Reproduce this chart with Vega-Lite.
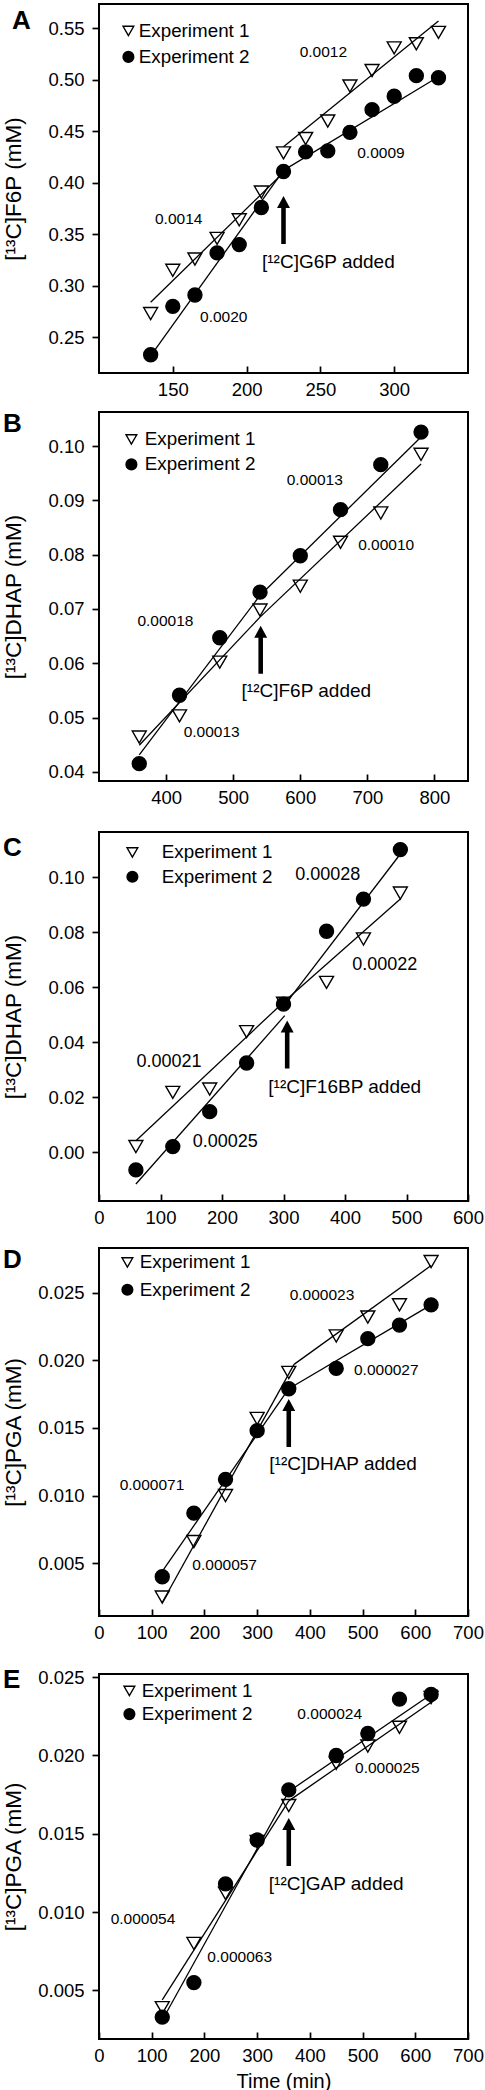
{
  "$schema": "https://vega.github.io/schema/vega-lite/v6.json",
  "padding": {"left": 1, "top": 3, "right": 2, "bottom": 2},
  "background": "white",
  "config": {
    "font": "Liberation Sans",
    "view": {"stroke": "black", "strokeWidth": 2},
    "axis": {"domain": false, "grid": false, "tickColor": "black", "tickWidth": 1.7, "labelColor": "black", "labelFontSize": 18.5, "labelFont": "Liberation Sans", "titleFont": "Liberation Sans", "titleFontWeight": "normal", "titleColor": "black", "labelFlush": false, "labelOverlap": false},
    "axisY": {"tickSize": 7, "labelPadding": 8, "titleFontSize": 22.5, "titlePadding": 12, "minExtent": 62, "maxExtent": 62},
    "axisX": {"tickSize": -7, "labelPadding": 14, "titleFontSize": 20, "titlePadding": 7},
    "legend": {"labelFont": "Liberation Sans", "labelFontSize": 18.8, "labelColor": "black", "symbolStrokeColor": "black", "symbolStrokeWidth": 1.4, "symbolSize": 115, "padding": 0, "direction": "vertical", "orient": "none"},
    "title": {"font": "Liberation Sans", "fontSize": 26, "fontWeight": "bold", "color": "black", "anchor": "start", "frame": "group"}
  },
  "datasets": {
    "pts": [
      {"panel":"A","exp":"Experiment 1","t":135,"c":0.273},{"panel":"A","exp":"Experiment 1","t":150,"c":0.315},{"panel":"A","exp":"Experiment 1","t":165,"c":0.326},{"panel":"A","exp":"Experiment 1","t":180,"c":0.346},{"panel":"A","exp":"Experiment 1","t":195,"c":0.364},{"panel":"A","exp":"Experiment 1","t":210,"c":0.391},{"panel":"A","exp":"Experiment 1","t":225,"c":0.429},{"panel":"A","exp":"Experiment 1","t":240,"c":0.443},{"panel":"A","exp":"Experiment 1","t":255,"c":0.460},{"panel":"A","exp":"Experiment 1","t":270,"c":0.494},{"panel":"A","exp":"Experiment 1","t":285,"c":0.509},{"panel":"A","exp":"Experiment 1","t":300,"c":0.531},{"panel":"A","exp":"Experiment 1","t":315,"c":0.535},{"panel":"A","exp":"Experiment 1","t":330,"c":0.546},
      {"panel":"A","exp":"Experiment 2","t":135,"c":0.233},{"panel":"A","exp":"Experiment 2","t":150,"c":0.280},{"panel":"A","exp":"Experiment 2","t":165,"c":0.291},{"panel":"A","exp":"Experiment 2","t":180,"c":0.332},{"panel":"A","exp":"Experiment 2","t":195,"c":0.340},{"panel":"A","exp":"Experiment 2","t":210,"c":0.376},{"panel":"A","exp":"Experiment 2","t":225,"c":0.411},{"panel":"A","exp":"Experiment 2","t":240,"c":0.430},{"panel":"A","exp":"Experiment 2","t":255,"c":0.431},{"panel":"A","exp":"Experiment 2","t":270,"c":0.449},{"panel":"A","exp":"Experiment 2","t":285,"c":0.471},{"panel":"A","exp":"Experiment 2","t":300,"c":0.484},{"panel":"A","exp":"Experiment 2","t":315,"c":0.504},{"panel":"A","exp":"Experiment 2","t":330,"c":0.502},
      {"panel":"B","exp":"Experiment 1","t":360,"c":0.0464},{"panel":"B","exp":"Experiment 1","t":420,"c":0.0503},{"panel":"B","exp":"Experiment 1","t":480,"c":0.0602},{"panel":"B","exp":"Experiment 1","t":540,"c":0.0698},{"panel":"B","exp":"Experiment 1","t":600,"c":0.0742},{"panel":"B","exp":"Experiment 1","t":660,"c":0.0823},{"panel":"B","exp":"Experiment 1","t":720,"c":0.0877},{"panel":"B","exp":"Experiment 1","t":780,"c":0.0985},
      {"panel":"B","exp":"Experiment 2","t":360,"c":0.0415},{"panel":"B","exp":"Experiment 2","t":420,"c":0.0541},{"panel":"B","exp":"Experiment 2","t":480,"c":0.0647},{"panel":"B","exp":"Experiment 2","t":540,"c":0.0731},{"panel":"B","exp":"Experiment 2","t":600,"c":0.0798},{"panel":"B","exp":"Experiment 2","t":660,"c":0.0883},{"panel":"B","exp":"Experiment 2","t":720,"c":0.0966},{"panel":"B","exp":"Experiment 2","t":780,"c":0.1026},
      {"panel":"C","exp":"Experiment 1","t":60,"c":0.0021},{"panel":"C","exp":"Experiment 1","t":120,"c":0.0218},{"panel":"C","exp":"Experiment 1","t":180,"c":0.0230},{"panel":"C","exp":"Experiment 1","t":240,"c":0.0439},{"panel":"C","exp":"Experiment 1","t":300,"c":0.0542},{"panel":"C","exp":"Experiment 1","t":370,"c":0.0618},{"panel":"C","exp":"Experiment 1","t":430,"c":0.0776},{"panel":"C","exp":"Experiment 1","t":490,"c":0.0943},
      {"panel":"C","exp":"Experiment 2","t":60,"c":-0.0064},{"panel":"C","exp":"Experiment 2","t":120,"c":0.0021},{"panel":"C","exp":"Experiment 2","t":180,"c":0.0148},{"panel":"C","exp":"Experiment 2","t":240,"c":0.0325},{"panel":"C","exp":"Experiment 2","t":300,"c":0.0539},{"panel":"C","exp":"Experiment 2","t":370,"c":0.0804},{"panel":"C","exp":"Experiment 2","t":430,"c":0.0921},{"panel":"C","exp":"Experiment 2","t":490,"c":0.1101},
      {"panel":"D","exp":"Experiment 1","t":120,"c":0.0025},{"panel":"D","exp":"Experiment 1","t":180,"c":0.0066},{"panel":"D","exp":"Experiment 1","t":240,"c":0.0100},{"panel":"D","exp":"Experiment 1","t":300,"c":0.0157},{"panel":"D","exp":"Experiment 1","t":360,"c":0.0191},{"panel":"D","exp":"Experiment 1","t":450,"c":0.0218},{"panel":"D","exp":"Experiment 1","t":510,"c":0.0232},{"panel":"D","exp":"Experiment 1","t":570,"c":0.0241},{"panel":"D","exp":"Experiment 1","t":630,"c":0.0273},
      {"panel":"D","exp":"Experiment 2","t":120,"c":0.0040},{"panel":"D","exp":"Experiment 2","t":180,"c":0.0087},{"panel":"D","exp":"Experiment 2","t":240,"c":0.0112},{"panel":"D","exp":"Experiment 2","t":300,"c":0.0148},{"panel":"D","exp":"Experiment 2","t":360,"c":0.0179},{"panel":"D","exp":"Experiment 2","t":450,"c":0.0194},{"panel":"D","exp":"Experiment 2","t":510,"c":0.0216},{"panel":"D","exp":"Experiment 2","t":570,"c":0.0226},{"panel":"D","exp":"Experiment 2","t":630,"c":0.0241},
      {"panel":"E","exp":"Experiment 1","t":120,"c":0.0039},{"panel":"E","exp":"Experiment 1","t":180,"c":0.0080},{"panel":"E","exp":"Experiment 1","t":240,"c":0.0112},{"panel":"E","exp":"Experiment 1","t":300,"c":0.0145},{"panel":"E","exp":"Experiment 1","t":360,"c":0.0168},{"panel":"E","exp":"Experiment 1","t":450,"c":0.0195},{"panel":"E","exp":"Experiment 1","t":510,"c":0.0206},{"panel":"E","exp":"Experiment 1","t":570,"c":0.0218},{"panel":"E","exp":"Experiment 1","t":630,"c":0.0237},
      {"panel":"E","exp":"Experiment 2","t":120,"c":0.0033},{"panel":"E","exp":"Experiment 2","t":180,"c":0.0055},{"panel":"E","exp":"Experiment 2","t":240,"c":0.0118},{"panel":"E","exp":"Experiment 2","t":300,"c":0.0146},{"panel":"E","exp":"Experiment 2","t":360,"c":0.0178},{"panel":"E","exp":"Experiment 2","t":450,"c":0.0200},{"panel":"E","exp":"Experiment 2","t":510,"c":0.0214},{"panel":"E","exp":"Experiment 2","t":570,"c":0.0236},{"panel":"E","exp":"Experiment 2","t":630,"c":0.0239}
    ],
    "fits": [
      {"panel":"A","seg":"1a","t":135,"c":0.284},{"panel":"A","seg":"1a","t":225,"c":0.410},
      {"panel":"A","seg":"1b","t":225,"c":0.435},{"panel":"A","seg":"1b","t":330,"c":0.557},
      {"panel":"A","seg":"2a","t":135,"c":0.232},{"panel":"A","seg":"2a","t":225,"c":0.412},
      {"panel":"A","seg":"2b","t":225,"c":0.412},{"panel":"A","seg":"2b","t":330,"c":0.503},
      {"panel":"B","seg":"1a","t":360,"c":0.0449},{"panel":"B","seg":"1a","t":540,"c":0.0685},
      {"panel":"B","seg":"1b","t":540,"c":0.0685},{"panel":"B","seg":"1b","t":780,"c":0.0967},
      {"panel":"B","seg":"2a","t":360,"c":0.0431},{"panel":"B","seg":"2a","t":540,"c":0.0725},
      {"panel":"B","seg":"2b","t":540,"c":0.0725},{"panel":"B","seg":"2b","t":780,"c":0.1017},
      {"panel":"C","seg":"1a","t":60,"c":0.0042},{"panel":"C","seg":"1a","t":300,"c":0.0546},
      {"panel":"C","seg":"1b","t":300,"c":0.0546},{"panel":"C","seg":"1b","t":490,"c":0.0921},
      {"panel":"C","seg":"2a","t":60,"c":-0.0115},{"panel":"C","seg":"2a","t":302,"c":0.0497},
      {"panel":"C","seg":"2b","t":299,"c":0.0527},{"panel":"C","seg":"2b","t":490,"c":0.1085},
      {"panel":"D","seg":"1a","t":120,"c":0.0021},{"panel":"D","seg":"1a","t":370,"c":0.0197},
      {"panel":"D","seg":"1b","t":370,"c":0.0197},{"panel":"D","seg":"1b","t":630,"c":0.0270},
      {"panel":"D","seg":"2a","t":120,"c":0.0044},{"panel":"D","seg":"2a","t":360,"c":0.0179},
      {"panel":"D","seg":"2b","t":360,"c":0.0179},{"panel":"D","seg":"2b","t":630,"c":0.0241},
      {"panel":"E","seg":"1a","t":120,"c":0.0044},{"panel":"E","seg":"1a","t":360,"c":0.0171},
      {"panel":"E","seg":"1b","t":360,"c":0.0171},{"panel":"E","seg":"1b","t":643,"c":0.0237},
      {"panel":"E","seg":"2a","t":120,"c":0.0031},{"panel":"E","seg":"2a","t":360,"c":0.0177},
      {"panel":"E","seg":"2b","t":360,"c":0.0177},{"panel":"E","seg":"2b","t":643,"c":0.0242}
    ],
    "notes": [
      {"panel":"A","kind":"slope","t":252,"c":0.527,"label":"0.0012"},
      {"panel":"A","kind":"slope","t":291,"c":0.4286,"label":"0.0009"},
      {"panel":"A","kind":"slope","t":154,"c":0.365,"label":"0.0014"},
      {"panel":"A","kind":"slope","t":184.5,"c":0.270,"label":"0.0020"},
      {"panel":"A","kind":"added","t":255.4,"c":0.323,"label":"[¹²C]G6P added"},
      {"panel":"A","kind":"arrow","t":225,"c":0.3872,"label":""},
      {"panel":"B","kind":"slope","t":621.6,"c":0.0937,"label":"0.00013"},
      {"panel":"B","kind":"slope","t":728,"c":0.0817,"label":"0.00010"},
      {"panel":"B","kind":"slope","t":399,"c":0.0677,"label":"0.00018"},
      {"panel":"B","kind":"slope","t":468,"c":0.0474,"label":"0.00013"},
      {"panel":"B","kind":"added","t":609,"c":0.0548,"label":"[¹²C]F6P added"},
      {"panel":"B","kind":"arrow","t":541,"c":0.0669,"label":""},
      {"panel":"C","kind":"slope","t":372,"c":0.1008,"label":"0.00028"},
      {"panel":"C","kind":"slope","t":464.5,"c":0.0682,"label":"0.00022"},
      {"panel":"C","kind":"slope","t":113.8,"c":0.0327,"label":"0.00021"},
      {"panel":"C","kind":"slope","t":205.4,"c":0.0039,"label":"0.00025"},
      {"panel":"C","kind":"added","t":399.5,"c":0.0239,"label":"[¹²C]F16BP added"},
      {"panel":"C","kind":"arrow","t":306,"c":0.0479,"label":""},
      {"panel":"D","kind":"slope","t":423,"c":0.0248,"label":"0.000023"},
      {"panel":"D","kind":"slope","t":545,"c":0.0193,"label":"0.000027"},
      {"panel":"D","kind":"slope","t":100.5,"c":0.01078,"label":"0.000071"},
      {"panel":"D","kind":"slope","t":238.4,"c":0.00488,"label":"0.000057"},
      {"panel":"D","kind":"added","t":463,"c":0.01233,"label":"[¹²C]DHAP added"},
      {"panel":"D","kind":"arrow","t":360,"c":0.01713,"label":""},
      {"panel":"E","kind":"slope","t":437.6,"c":0.02266,"label":"0.000024"},
      {"panel":"E","kind":"slope","t":547,"c":0.01919,"label":"0.000025"},
      {"panel":"E","kind":"slope","t":83.5,"c":0.00953,"label":"0.000054"},
      {"panel":"E","kind":"slope","t":266.9,"c":0.00713,"label":"0.000063"},
      {"panel":"E","kind":"added","t":450,"c":0.01181,"label":"[¹²C]GAP added"},
      {"panel":"E","kind":"arrow","t":360,"c":0.0160,"label":""}
    ]
  },
  "spacing": 10,
  "resolve": {"scale": {"shape": "independent", "fill": "independent", "stroke": "independent"}},
  "vconcat": [
    {
      "width": 369, "height": 369,
      "title": {"text": "A", "dx": -87, "offset": -29.5},
      "layer": [
        {"data": {"name": "pts"}, "transform": [{"filter": "datum.panel === 'A'"}],
         "mark": {"type": "point", "filled": true, "strokeWidth": 1.4, "size": 195, "opacity": 1},
         "encoding": {
           "x": {"field": "t", "type": "quantitative", "scale": {"domain": [100, 350], "nice": false, "zero": false}, "axis": {"values": [150, 200, 250, 300], "title": null}},
           "y": {"field": "c", "type": "quantitative", "scale": {"domain": [0.2153, 0.5736], "nice": false, "zero": false}, "axis": {"values": [0.25, 0.30, 0.35, 0.40, 0.45, 0.50, 0.55], "format": ".2f", "title": "[¹³C]F6P (mM)"}},
           "shape": {"field": "exp", "type": "nominal", "scale": {"domain": ["Experiment 1", "Experiment 2"], "range": ["triangle-down", "circle"]}, "legend": {"title": null, "orient": "none", "legendX": 20, "legendY": 17.5, "labelOffset": 1, "rowPadding": 6, "symbolSize": 115}},
           "fill": {"field": "exp", "type": "nominal", "scale": {"domain": ["Experiment 1", "Experiment 2"], "range": ["white", "black"]}, "legend": {"title": null, "orient": "none", "legendX": 20, "legendY": 17.5, "labelOffset": 1, "rowPadding": 6, "symbolSize": 115}},
           "stroke": {"field": "exp", "type": "nominal", "scale": {"domain": ["Experiment 1", "Experiment 2"], "range": ["black", "black"]}, "legend": {"title": null, "orient": "none", "legendX": 20, "legendY": 17.5, "labelOffset": 1, "rowPadding": 6, "symbolSize": 115}}
         }},
        {"data": {"name": "fits"}, "transform": [{"filter": "datum.panel === 'A'"}],
         "mark": {"type": "line", "stroke": "black", "strokeWidth": 1.3},
         "encoding": {
           "x": {"field": "t", "type": "quantitative", "scale": {"domain": [100, 350], "nice": false, "zero": false}, "axis": {"values": [150, 200, 250, 300], "title": null}},
           "y": {"field": "c", "type": "quantitative", "scale": {"domain": [0.2153, 0.5736], "nice": false, "zero": false}, "axis": {"values": [0.25, 0.30, 0.35, 0.40, 0.45, 0.50, 0.55], "format": ".2f", "title": "[¹³C]F6P (mM)"}},
           "detail": {"field": "seg", "type": "nominal"}
         }},
        {"data": {"name": "notes"}, "transform": [{"filter": "datum.panel === 'A' && datum.kind === 'slope'"}],
         "mark": {"type": "text", "font": "Liberation Sans", "fontSize": 15.5, "fill": "black"},
         "encoding": {
           "x": {"field": "t", "type": "quantitative", "scale": {"domain": [100, 350], "nice": false, "zero": false}, "axis": {"values": [150, 200, 250, 300], "title": null}},
           "y": {"field": "c", "type": "quantitative", "scale": {"domain": [0.2153, 0.5736], "nice": false, "zero": false}, "axis": {"values": [0.25, 0.30, 0.35, 0.40, 0.45, 0.50, 0.55], "format": ".2f", "title": "[¹³C]F6P (mM)"}},
           "text": {"field": "label"}
         }},
        {"data": {"name": "notes"}, "transform": [{"filter": "datum.panel === 'A' && datum.kind === 'added'"}],
         "mark": {"type": "text", "font": "Liberation Sans", "fontSize": 19, "fill": "black"},
         "encoding": {
           "x": {"field": "t", "type": "quantitative", "scale": {"domain": [100, 350], "nice": false, "zero": false}, "axis": {"values": [150, 200, 250, 300], "title": null}},
           "y": {"field": "c", "type": "quantitative", "scale": {"domain": [0.2153, 0.5736], "nice": false, "zero": false}, "axis": {"values": [0.25, 0.30, 0.35, 0.40, 0.45, 0.50, 0.55], "format": ".2f", "title": "[¹³C]F6P (mM)"}},
           "text": {"field": "label"}
         }},
        {"data": {"name": "notes"}, "transform": [{"filter": "datum.panel === 'A' && datum.kind === 'arrow'"}],
         "mark": {"type": "point", "shape": "M0,0L0.27,0.5L0.095,0.5L0.095,2L-0.095,2L-0.095,0.5L-0.27,0.5Z", "size": 2304, "filled": true, "fill": "black", "strokeWidth": 0, "opacity": 1},
         "encoding": {
           "x": {"field": "t", "type": "quantitative", "scale": {"domain": [100, 350], "nice": false, "zero": false}, "axis": {"values": [150, 200, 250, 300], "title": null}},
           "y": {"field": "c", "type": "quantitative", "scale": {"domain": [0.2153, 0.5736], "nice": false, "zero": false}, "axis": {"values": [0.25, 0.30, 0.35, 0.40, 0.45, 0.50, 0.55], "format": ".2f", "title": "[¹³C]F6P (mM)"}}
         }}
      ]
    },
    {
      "width": 369, "height": 369,
      "title": {"text": "B", "dx": -96, "offset": -25},
      "layer": [
        {"data": {"name": "pts"}, "transform": [{"filter": "datum.panel === 'B'"}],
         "mark": {"type": "point", "filled": true, "strokeWidth": 1.4, "size": 195, "opacity": 1},
         "encoding": {
           "x": {"field": "t", "type": "quantitative", "scale": {"domain": [300, 850], "nice": false, "zero": false}, "axis": {"values": [400, 500, 600, 700, 800], "title": null}},
           "y": {"field": "c", "type": "quantitative", "scale": {"domain": [0.0383, 0.1063], "nice": false, "zero": false}, "axis": {"values": [0.04, 0.05, 0.06, 0.07, 0.08, 0.09, 0.10], "format": ".2f", "title": "[¹³C]DHAP (mM)"}},
           "shape": {"field": "exp", "type": "nominal", "scale": {"domain": ["Experiment 1", "Experiment 2"], "range": ["triangle-down", "circle"]}, "legend": {"title": null, "orient": "none", "legendX": 23, "legendY": 18, "labelOffset": 4, "rowPadding": 5, "symbolSize": 115}},
           "fill": {"field": "exp", "type": "nominal", "scale": {"domain": ["Experiment 1", "Experiment 2"], "range": ["white", "black"]}, "legend": {"title": null, "orient": "none", "legendX": 23, "legendY": 18, "labelOffset": 4, "rowPadding": 5, "symbolSize": 115}},
           "stroke": {"field": "exp", "type": "nominal", "scale": {"domain": ["Experiment 1", "Experiment 2"], "range": ["black", "black"]}, "legend": {"title": null, "orient": "none", "legendX": 23, "legendY": 18, "labelOffset": 4, "rowPadding": 5, "symbolSize": 115}}
         }},
        {"data": {"name": "fits"}, "transform": [{"filter": "datum.panel === 'B'"}],
         "mark": {"type": "line", "stroke": "black", "strokeWidth": 1.3},
         "encoding": {
           "x": {"field": "t", "type": "quantitative", "scale": {"domain": [300, 850], "nice": false, "zero": false}, "axis": {"values": [400, 500, 600, 700, 800], "title": null}},
           "y": {"field": "c", "type": "quantitative", "scale": {"domain": [0.0383, 0.1063], "nice": false, "zero": false}, "axis": {"values": [0.04, 0.05, 0.06, 0.07, 0.08, 0.09, 0.10], "format": ".2f", "title": "[¹³C]DHAP (mM)"}},
           "detail": {"field": "seg", "type": "nominal"}
         }},
        {"data": {"name": "notes"}, "transform": [{"filter": "datum.panel === 'B' && datum.kind === 'slope'"}],
         "mark": {"type": "text", "font": "Liberation Sans", "fontSize": 15.5, "fill": "black"},
         "encoding": {
           "x": {"field": "t", "type": "quantitative", "scale": {"domain": [300, 850], "nice": false, "zero": false}, "axis": {"values": [400, 500, 600, 700, 800], "title": null}},
           "y": {"field": "c", "type": "quantitative", "scale": {"domain": [0.0383, 0.1063], "nice": false, "zero": false}, "axis": {"values": [0.04, 0.05, 0.06, 0.07, 0.08, 0.09, 0.10], "format": ".2f", "title": "[¹³C]DHAP (mM)"}},
           "text": {"field": "label"}
         }},
        {"data": {"name": "notes"}, "transform": [{"filter": "datum.panel === 'B' && datum.kind === 'added'"}],
         "mark": {"type": "text", "font": "Liberation Sans", "fontSize": 19, "fill": "black"},
         "encoding": {
           "x": {"field": "t", "type": "quantitative", "scale": {"domain": [300, 850], "nice": false, "zero": false}, "axis": {"values": [400, 500, 600, 700, 800], "title": null}},
           "y": {"field": "c", "type": "quantitative", "scale": {"domain": [0.0383, 0.1063], "nice": false, "zero": false}, "axis": {"values": [0.04, 0.05, 0.06, 0.07, 0.08, 0.09, 0.10], "format": ".2f", "title": "[¹³C]DHAP (mM)"}},
           "text": {"field": "label"}
         }},
        {"data": {"name": "notes"}, "transform": [{"filter": "datum.panel === 'B' && datum.kind === 'arrow'"}],
         "mark": {"type": "point", "shape": "M0,0L0.27,0.5L0.095,0.5L0.095,2L-0.095,2L-0.095,0.5L-0.27,0.5Z", "size": 2304, "filled": true, "fill": "black", "strokeWidth": 0, "opacity": 1},
         "encoding": {
           "x": {"field": "t", "type": "quantitative", "scale": {"domain": [300, 850], "nice": false, "zero": false}, "axis": {"values": [400, 500, 600, 700, 800], "title": null}},
           "y": {"field": "c", "type": "quantitative", "scale": {"domain": [0.0383, 0.1063], "nice": false, "zero": false}, "axis": {"values": [0.04, 0.05, 0.06, 0.07, 0.08, 0.09, 0.10], "format": ".2f", "title": "[¹³C]DHAP (mM)"}}
         }}
      ]
    },
    {
      "width": 369, "height": 369,
      "title": {"text": [" ", "C"], "lineHeight": 16, "dx": -96, "offset": -29},
      "layer": [
        {"data": {"name": "pts"}, "transform": [{"filter": "datum.panel === 'C'"}],
         "mark": {"type": "point", "filled": true, "strokeWidth": 1.4, "size": 195, "opacity": 1},
         "encoding": {
           "x": {"field": "t", "type": "quantitative", "scale": {"domain": [0, 600], "nice": false, "zero": false}, "axis": {"values": [0, 100, 200, 300, 400, 500, 600], "title": null}},
           "y": {"field": "c", "type": "quantitative", "scale": {"domain": [-0.0177, 0.1165], "nice": false, "zero": false}, "axis": {"values": [0, 0.02, 0.04, 0.06, 0.08, 0.10], "format": ".2f", "title": "[¹³C]DHAP (mM)"}},
           "shape": {"field": "exp", "type": "nominal", "scale": {"domain": ["Experiment 1", "Experiment 2"], "range": ["triangle-down", "circle"]}, "legend": {"title": null, "orient": "none", "legendX": 24, "legendY": 11, "labelOffset": 20, "rowPadding": 4.3, "symbolSize": 115}},
           "fill": {"field": "exp", "type": "nominal", "scale": {"domain": ["Experiment 1", "Experiment 2"], "range": ["white", "black"]}, "legend": {"title": null, "orient": "none", "legendX": 24, "legendY": 11, "labelOffset": 20, "rowPadding": 4.3, "symbolSize": 115}},
           "stroke": {"field": "exp", "type": "nominal", "scale": {"domain": ["Experiment 1", "Experiment 2"], "range": ["black", "black"]}, "legend": {"title": null, "orient": "none", "legendX": 24, "legendY": 11, "labelOffset": 20, "rowPadding": 4.3, "symbolSize": 115}}
         }},
        {"data": {"name": "fits"}, "transform": [{"filter": "datum.panel === 'C'"}],
         "mark": {"type": "line", "stroke": "black", "strokeWidth": 1.3},
         "encoding": {
           "x": {"field": "t", "type": "quantitative", "scale": {"domain": [0, 600], "nice": false, "zero": false}, "axis": {"values": [0, 100, 200, 300, 400, 500, 600], "title": null}},
           "y": {"field": "c", "type": "quantitative", "scale": {"domain": [-0.0177, 0.1165], "nice": false, "zero": false}, "axis": {"values": [0, 0.02, 0.04, 0.06, 0.08, 0.10], "format": ".2f", "title": "[¹³C]DHAP (mM)"}},
           "detail": {"field": "seg", "type": "nominal"}
         }},
        {"data": {"name": "notes"}, "transform": [{"filter": "datum.panel === 'C' && datum.kind === 'slope'"}],
         "mark": {"type": "text", "font": "Liberation Sans", "fontSize": 18, "fill": "black"},
         "encoding": {
           "x": {"field": "t", "type": "quantitative", "scale": {"domain": [0, 600], "nice": false, "zero": false}, "axis": {"values": [0, 100, 200, 300, 400, 500, 600], "title": null}},
           "y": {"field": "c", "type": "quantitative", "scale": {"domain": [-0.0177, 0.1165], "nice": false, "zero": false}, "axis": {"values": [0, 0.02, 0.04, 0.06, 0.08, 0.10], "format": ".2f", "title": "[¹³C]DHAP (mM)"}},
           "text": {"field": "label"}
         }},
        {"data": {"name": "notes"}, "transform": [{"filter": "datum.panel === 'C' && datum.kind === 'added'"}],
         "mark": {"type": "text", "font": "Liberation Sans", "fontSize": 19, "fill": "black"},
         "encoding": {
           "x": {"field": "t", "type": "quantitative", "scale": {"domain": [0, 600], "nice": false, "zero": false}, "axis": {"values": [0, 100, 200, 300, 400, 500, 600], "title": null}},
           "y": {"field": "c", "type": "quantitative", "scale": {"domain": [-0.0177, 0.1165], "nice": false, "zero": false}, "axis": {"values": [0, 0.02, 0.04, 0.06, 0.08, 0.10], "format": ".2f", "title": "[¹³C]DHAP (mM)"}},
           "text": {"field": "label"}
         }},
        {"data": {"name": "notes"}, "transform": [{"filter": "datum.panel === 'C' && datum.kind === 'arrow'"}],
         "mark": {"type": "point", "shape": "M0,0L0.27,0.5L0.095,0.5L0.095,2L-0.095,2L-0.095,0.5L-0.27,0.5Z", "size": 2304, "filled": true, "fill": "black", "strokeWidth": 0, "opacity": 1},
         "encoding": {
           "x": {"field": "t", "type": "quantitative", "scale": {"domain": [0, 600], "nice": false, "zero": false}, "axis": {"values": [0, 100, 200, 300, 400, 500, 600], "title": null}},
           "y": {"field": "c", "type": "quantitative", "scale": {"domain": [-0.0177, 0.1165], "nice": false, "zero": false}, "axis": {"values": [0, 0.02, 0.04, 0.06, 0.08, 0.10], "format": ".2f", "title": "[¹³C]DHAP (mM)"}}
         }}
      ]
    },
    {
      "width": 369, "height": 368,
      "title": {"text": [" ", "D"], "lineHeight": 8, "dx": -96, "offset": -25},
      "layer": [
        {"data": {"name": "pts"}, "transform": [{"filter": "datum.panel === 'D'"}],
         "mark": {"type": "point", "filled": true, "strokeWidth": 1.4, "size": 195, "opacity": 1},
         "encoding": {
           "x": {"field": "t", "type": "quantitative", "scale": {"domain": [0, 700], "nice": false, "zero": false}, "axis": {"values": [0, 100, 200, 300, 400, 500, 600, 700], "title": null}},
           "y": {"field": "c", "type": "quantitative", "scale": {"domain": [0.0011, 0.0283], "nice": false, "zero": false}, "axis": {"values": [0.005, 0.010, 0.015, 0.020, 0.025], "format": ".3f", "title": "[¹³C]PGA (mM)"}},
           "shape": {"field": "exp", "type": "nominal", "scale": {"domain": ["Experiment 1", "Experiment 2"], "range": ["triangle-down", "circle"]}, "legend": {"title": null, "orient": "none", "legendX": 19, "legendY": 5, "labelOffset": 3, "rowPadding": 7.3, "symbolSize": 115}},
           "fill": {"field": "exp", "type": "nominal", "scale": {"domain": ["Experiment 1", "Experiment 2"], "range": ["white", "black"]}, "legend": {"title": null, "orient": "none", "legendX": 19, "legendY": 5, "labelOffset": 3, "rowPadding": 7.3, "symbolSize": 115}},
           "stroke": {"field": "exp", "type": "nominal", "scale": {"domain": ["Experiment 1", "Experiment 2"], "range": ["black", "black"]}, "legend": {"title": null, "orient": "none", "legendX": 19, "legendY": 5, "labelOffset": 3, "rowPadding": 7.3, "symbolSize": 115}}
         }},
        {"data": {"name": "fits"}, "transform": [{"filter": "datum.panel === 'D'"}],
         "mark": {"type": "line", "stroke": "black", "strokeWidth": 1.3},
         "encoding": {
           "x": {"field": "t", "type": "quantitative", "scale": {"domain": [0, 700], "nice": false, "zero": false}, "axis": {"values": [0, 100, 200, 300, 400, 500, 600, 700], "title": null}},
           "y": {"field": "c", "type": "quantitative", "scale": {"domain": [0.0011, 0.0283], "nice": false, "zero": false}, "axis": {"values": [0.005, 0.010, 0.015, 0.020, 0.025], "format": ".3f", "title": "[¹³C]PGA (mM)"}},
           "detail": {"field": "seg", "type": "nominal"}
         }},
        {"data": {"name": "notes"}, "transform": [{"filter": "datum.panel === 'D' && datum.kind === 'slope'"}],
         "mark": {"type": "text", "font": "Liberation Sans", "fontSize": 15.5, "fill": "black"},
         "encoding": {
           "x": {"field": "t", "type": "quantitative", "scale": {"domain": [0, 700], "nice": false, "zero": false}, "axis": {"values": [0, 100, 200, 300, 400, 500, 600, 700], "title": null}},
           "y": {"field": "c", "type": "quantitative", "scale": {"domain": [0.0011, 0.0283], "nice": false, "zero": false}, "axis": {"values": [0.005, 0.010, 0.015, 0.020, 0.025], "format": ".3f", "title": "[¹³C]PGA (mM)"}},
           "text": {"field": "label"}
         }},
        {"data": {"name": "notes"}, "transform": [{"filter": "datum.panel === 'D' && datum.kind === 'added'"}],
         "mark": {"type": "text", "font": "Liberation Sans", "fontSize": 19, "fill": "black"},
         "encoding": {
           "x": {"field": "t", "type": "quantitative", "scale": {"domain": [0, 700], "nice": false, "zero": false}, "axis": {"values": [0, 100, 200, 300, 400, 500, 600, 700], "title": null}},
           "y": {"field": "c", "type": "quantitative", "scale": {"domain": [0.0011, 0.0283], "nice": false, "zero": false}, "axis": {"values": [0.005, 0.010, 0.015, 0.020, 0.025], "format": ".3f", "title": "[¹³C]PGA (mM)"}},
           "text": {"field": "label"}
         }},
        {"data": {"name": "notes"}, "transform": [{"filter": "datum.panel === 'D' && datum.kind === 'arrow'"}],
         "mark": {"type": "point", "shape": "M0,0L0.27,0.5L0.095,0.5L0.095,2L-0.095,2L-0.095,0.5L-0.27,0.5Z", "size": 2304, "filled": true, "fill": "black", "strokeWidth": 0, "opacity": 1},
         "encoding": {
           "x": {"field": "t", "type": "quantitative", "scale": {"domain": [0, 700], "nice": false, "zero": false}, "axis": {"values": [0, 100, 200, 300, 400, 500, 600, 700], "title": null}},
           "y": {"field": "c", "type": "quantitative", "scale": {"domain": [0.0011, 0.0283], "nice": false, "zero": false}, "axis": {"values": [0.005, 0.010, 0.015, 0.020, 0.025], "format": ".3f", "title": "[¹³C]PGA (mM)"}}
         }}
      ]
    },
    {
      "width": 369, "height": 365,
      "title": {"text": [" ", "E"], "lineHeight": 13, "dx": -96, "offset": -25},
      "layer": [
        {"data": {"name": "pts"}, "transform": [{"filter": "datum.panel === 'E'"}],
         "mark": {"type": "point", "filled": true, "strokeWidth": 1.4, "size": 195, "opacity": 1},
         "encoding": {
           "x": {"field": "t", "type": "quantitative", "scale": {"domain": [0, 700], "nice": false, "zero": false}, "axis": {"values": [0, 100, 200, 300, 400, 500, 600, 700], "title": "Time (min)", "titleFontSize": 20}},
           "y": {"field": "c", "type": "quantitative", "scale": {"domain": [0.0019, 0.0252], "nice": false, "zero": false}, "axis": {"values": [0.005, 0.010, 0.015, 0.020, 0.025], "format": ".3f", "title": "[¹³C]PGA (mM)"}},
           "shape": {"field": "exp", "type": "nominal", "scale": {"domain": ["Experiment 1", "Experiment 2"], "range": ["triangle-down", "circle"]}, "legend": {"title": null, "orient": "none", "legendX": 21, "legendY": 7.5, "labelOffset": 3, "rowPadding": 3.2, "symbolSize": 115}},
           "fill": {"field": "exp", "type": "nominal", "scale": {"domain": ["Experiment 1", "Experiment 2"], "range": ["white", "black"]}, "legend": {"title": null, "orient": "none", "legendX": 21, "legendY": 7.5, "labelOffset": 3, "rowPadding": 3.2, "symbolSize": 115}},
           "stroke": {"field": "exp", "type": "nominal", "scale": {"domain": ["Experiment 1", "Experiment 2"], "range": ["black", "black"]}, "legend": {"title": null, "orient": "none", "legendX": 21, "legendY": 7.5, "labelOffset": 3, "rowPadding": 3.2, "symbolSize": 115}}
         }},
        {"data": {"name": "fits"}, "transform": [{"filter": "datum.panel === 'E'"}],
         "mark": {"type": "line", "stroke": "black", "strokeWidth": 1.3},
         "encoding": {
           "x": {"field": "t", "type": "quantitative", "scale": {"domain": [0, 700], "nice": false, "zero": false}, "axis": {"values": [0, 100, 200, 300, 400, 500, 600, 700], "title": "Time (min)", "titleFontSize": 20}},
           "y": {"field": "c", "type": "quantitative", "scale": {"domain": [0.0019, 0.0252], "nice": false, "zero": false}, "axis": {"values": [0.005, 0.010, 0.015, 0.020, 0.025], "format": ".3f", "title": "[¹³C]PGA (mM)"}},
           "detail": {"field": "seg", "type": "nominal"}
         }},
        {"data": {"name": "notes"}, "transform": [{"filter": "datum.panel === 'E' && datum.kind === 'slope'"}],
         "mark": {"type": "text", "font": "Liberation Sans", "fontSize": 15.5, "fill": "black"},
         "encoding": {
           "x": {"field": "t", "type": "quantitative", "scale": {"domain": [0, 700], "nice": false, "zero": false}, "axis": {"values": [0, 100, 200, 300, 400, 500, 600, 700], "title": "Time (min)", "titleFontSize": 20}},
           "y": {"field": "c", "type": "quantitative", "scale": {"domain": [0.0019, 0.0252], "nice": false, "zero": false}, "axis": {"values": [0.005, 0.010, 0.015, 0.020, 0.025], "format": ".3f", "title": "[¹³C]PGA (mM)"}},
           "text": {"field": "label"}
         }},
        {"data": {"name": "notes"}, "transform": [{"filter": "datum.panel === 'E' && datum.kind === 'added'"}],
         "mark": {"type": "text", "font": "Liberation Sans", "fontSize": 19, "fill": "black"},
         "encoding": {
           "x": {"field": "t", "type": "quantitative", "scale": {"domain": [0, 700], "nice": false, "zero": false}, "axis": {"values": [0, 100, 200, 300, 400, 500, 600, 700], "title": "Time (min)", "titleFontSize": 20}},
           "y": {"field": "c", "type": "quantitative", "scale": {"domain": [0.0019, 0.0252], "nice": false, "zero": false}, "axis": {"values": [0.005, 0.010, 0.015, 0.020, 0.025], "format": ".3f", "title": "[¹³C]PGA (mM)"}},
           "text": {"field": "label"}
         }},
        {"data": {"name": "notes"}, "transform": [{"filter": "datum.panel === 'E' && datum.kind === 'arrow'"}],
         "mark": {"type": "point", "shape": "M0,0L0.27,0.5L0.095,0.5L0.095,2L-0.095,2L-0.095,0.5L-0.27,0.5Z", "size": 2304, "filled": true, "fill": "black", "strokeWidth": 0, "opacity": 1},
         "encoding": {
           "x": {"field": "t", "type": "quantitative", "scale": {"domain": [0, 700], "nice": false, "zero": false}, "axis": {"values": [0, 100, 200, 300, 400, 500, 600, 700], "title": "Time (min)", "titleFontSize": 20}},
           "y": {"field": "c", "type": "quantitative", "scale": {"domain": [0.0019, 0.0252], "nice": false, "zero": false}, "axis": {"values": [0.005, 0.010, 0.015, 0.020, 0.025], "format": ".3f", "title": "[¹³C]PGA (mM)"}}
         }}
      ]
    }
  ]
}
